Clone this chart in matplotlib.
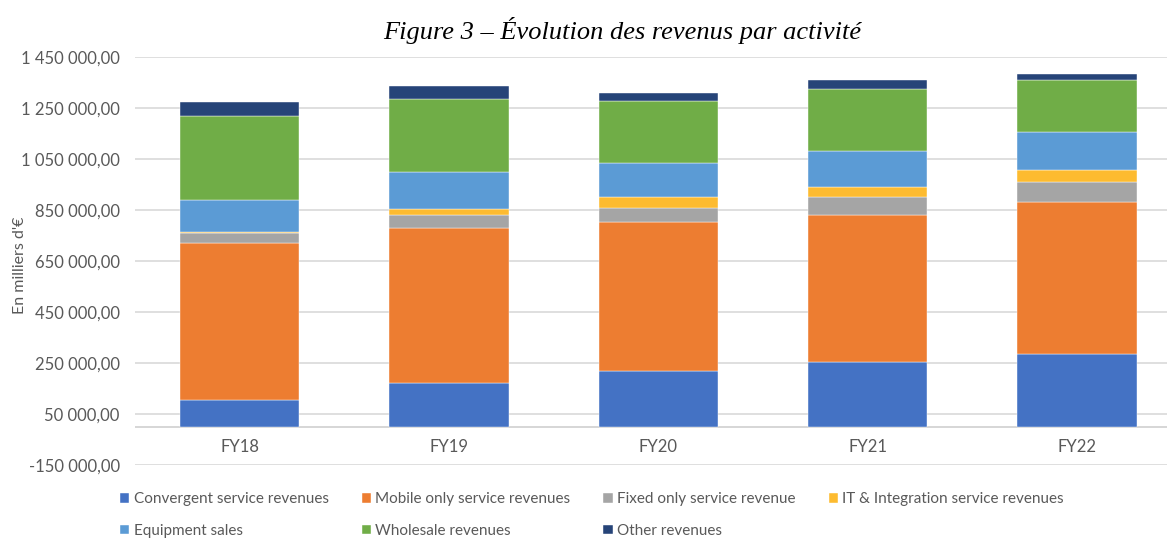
import numpy as np
import matplotlib.pyplot as plt
from matplotlib.ticker import FuncFormatter

# --------------------------------------------
# Data (thousands of EUR)
# --------------------------------------------
years = ['FY18', 'FY19', 'FY20', 'FY21', 'FY22']

convergent = [106000, 171000, 220000, 256000, 286000]
mobile = [615000, 610000, 585000, 574000, 595000]
fixed = [39000, 49000, 55000, 71000, 80000]
it_integration = [6000, 26000, 41000, 40000, 45000]
equipment = [124000, 145000, 135000, 140000, 151000]
wholesale = [330000, 285000, 244000, 244000, 203000]
other = [56000, 52000, 30000, 35000, 26000]

series = [
    ('Convergent service revenues', convergent, '#4472C4'),
    ('Mobile only service revenues', mobile, '#ED7D31'),
    ('Fixed only service revenue', fixed, '#A5A5A5'),
    ('IT & Integration service revenues', it_integration, '#FDBB30'),
    ('Equipment sales', equipment, '#5B9BD5'),
    ('Wholesale revenues', wholesale, '#70AD47'),
    ('Other revenues', other, '#264478'),
]

plt.rcParams['font.family'] = ['Lato', 'DejaVu Sans']

fig = plt.figure(figsize=(11.67, 5.38), dpi=100)
ax = fig.add_axes([135 / 1167, 73 / 538, 1032 / 1167, 407.7 / 538])

x = np.arange(len(years))
bottom = np.zeros(len(years))
handles = {}
for name, vals, color in series:
    b = ax.bar(x, vals, width=0.57, bottom=bottom, color=color,
               edgecolor='white', linewidth=0.3, label=name, zorder=3)
    handles[name] = b
    bottom += np.array(vals)

# --------------------------------------------
# Axes styling
# --------------------------------------------
ax.set_xlim(-0.5, 4.43)
ax.set_ylim(-150000, 1450000)
ax.set_yticks(np.arange(-150000, 1450001, 200000))
ax.yaxis.set_major_formatter(FuncFormatter(
    lambda v, p: f"{v:,.2f}".replace(',', ' ').replace('.', ',')))
ax.grid(axis='y', color='#d9d9d9', linewidth=1.2, zorder=0)
ax.axhline(0, color='#d0d0d0', linewidth=1.2, zorder=1)
for s in ax.spines.values():
    s.set_visible(False)
ax.tick_params(axis='both', length=0, colors='#595959', labelsize=12)
ax.tick_params(axis='y', pad=11)
ax.set_xticks(x)
ax.set_xticklabels(years)
ax.tick_params(axis='x', pad=-19)

fig.text(20 / 1167, 1 - 265 / 538, "En milliers d'€", rotation=90,
         ha='center', va='center', fontsize=11.5, color='#595959')

fig.text(622 / 1167, 1 - 30 / 538, 'Figure 3 – Évolution des revenus par activité',
         ha='center', va='center', fontsize=19, style='italic',
         family=['Liberation Serif', 'DejaVu Serif'])

order = ['Convergent service revenues', 'Equipment sales',
         'Mobile only service revenues', 'Wholesale revenues',
         'Fixed only service revenue', 'Other revenues',
         'IT & Integration service revenues']
leg = fig.legend([handles[n] for n in order], order, ncol=4,
                 loc='center', bbox_to_anchor=(592 / 1167, 1 - 515 / 538),
                 frameon=False, fontsize=11, handlelength=0.6,
                 handleheight=0.6, handletextpad=0.3, columnspacing=2.15,
                 labelspacing=1.15)
for t in leg.get_texts():
    t.set_color('#595959')

plt.savefig('out.png', dpi=100)
